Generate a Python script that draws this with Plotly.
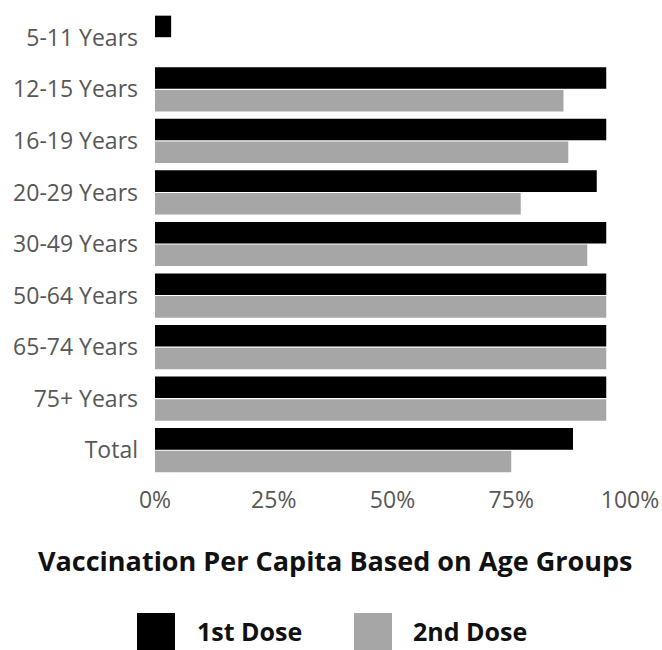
import plotly.graph_objects as go

# Age groups, top to bottom
age_groups = ["5-11 Years", "12-15 Years", "16-19 Years", "20-29 Years", "30-49 Years",
              "50-64 Years", "65-74 Years", "75+ Years", "Total"]
first_dose = [3.4, 95, 95, 93, 95, 95, 95, 95, 88]
second_dose = [0, 86, 87, 77, 91, 95, 95, 95, 75]

tick_values = [0, 25, 50, 75, 100]
tick_labels = ["0%", "25%", "50%", "75%", "100%"]

series_names = ["1st Dose", "2nd Dose"]
series_colors = ["#000000", "#a6a6a6"]

fig = go.Figure()
for name, vals, color in zip(series_names, [first_dose, second_dose], series_colors):
    fig.add_trace(go.Bar(
        y=age_groups, x=vals, name=name, orientation="h",
        marker=dict(color=color, line=dict(width=0)),
        showlegend=False,
    ))

label_font = dict(family="Open Sans", size=23, color="#575757")

# plot area in pixels: x 155..630, y 12..476
PX0, PX1, PY0, PY1 = 155, 630, 12, 476


def px(x):
    return (x - PX0) / (PX1 - PX0)


def py(y):
    return (PY1 - y) / (PY1 - PY0)


fig.update_layout(
    width=662, height=650,
    margin=dict(l=PX0, r=662 - PX1, t=PY0, b=650 - PY1, autoexpand=False),
    paper_bgcolor="white", plot_bgcolor="white",
    barmode="group", bargap=0.12, bargroupgap=0.05,
    xaxis=dict(range=[0, 100], tickvals=tick_values, ticktext=tick_labels,
               showgrid=False, zeroline=False, showline=False, automargin=False,
               tickfont=label_font, ticks="", ticklabelstandoff=8),
    yaxis=dict(autorange="reversed", showgrid=False, zeroline=False, showline=False,
               automargin=False,
               tickfont=label_font, ticks="", ticklabelstandoff=16),
    font=dict(family="Open Sans"),
)

# Chart title below the axis
fig.add_annotation(
    text="<b>Vaccination Per Capita Based on Age Groups</b>",
    xref="paper", yref="paper", x=px(335), y=py(560),
    xanchor="center", yanchor="middle", showarrow=False,
    font=dict(family="Open Sans", size=27, color="#111111"),
)

# Legend: large swatches with bold labels
legend_items = [(137, 195), (354, 411)]
for (sx, tx), name, color in zip(legend_items, series_names, series_colors):
    fig.add_shape(type="rect", xref="paper", yref="paper",
                  x0=px(sx), x1=px(sx + 38),
                  y0=py(613), y1=py(652),
                  fillcolor=color, line=dict(width=0))
    fig.add_annotation(
        text=f"<b>{name}</b>", xref="paper", yref="paper",
        x=px(tx), y=py(631),
        xanchor="left", yanchor="middle", showarrow=False,
        font=dict(family="Open Sans", size=25, color="#111111"),
    )

fig.write_html("out.html")
